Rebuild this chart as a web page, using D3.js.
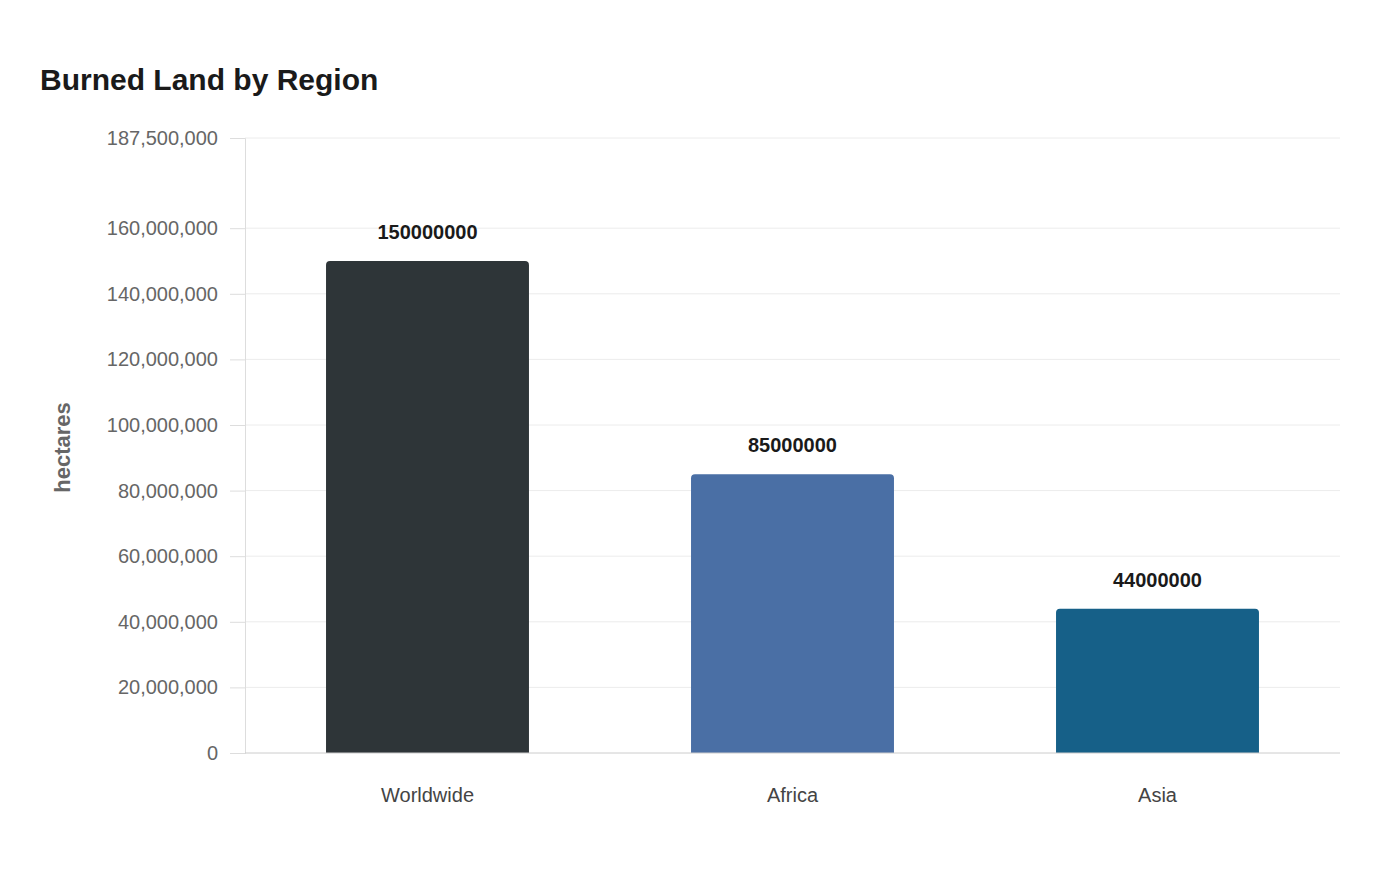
<!DOCTYPE html>
<html>
<head>
<meta charset="utf-8">
<script src="https://cdn.jsdelivr.net/npm/d3@7"></script>
<style>
  body { margin: 0; background: #fff; font-family: "Liberation Sans", Arial, sans-serif; }
</style>
</head>
<body>
<div id="chart"></div>
<script>
// data
const regions = ["Worldwide", "Africa", "Asia"];
const hectares = [150000000, 85000000, 44000000];
const barColors = ["#2e3538", "#4a6fa5", "#166088"];
const yTicks = [0, 20000000, 40000000, 60000000, 80000000, 100000000, 120000000, 140000000, 160000000, 187500000];

const width = 1400, height = 880;
const margin = { top: 138, right: 60, bottom: 127, left: 245 };

const svg = d3.select("#chart").append("svg")
  .attr("width", width).attr("height", height);

const x = d3.scaleBand().domain(regions)
  .range([margin.left, width - margin.right])
  .paddingInner(0.444).paddingOuter(0.222);
const y = d3.scaleLinear().domain([0, 187500000])
  .range([height - margin.bottom, margin.top]);

//title
svg.append("text").attr("x", 40).attr("y", 90)
  .attr("font-size", 30).attr("font-weight", "bold").attr("fill", "#1a1a1a")
  .text("Burned Land by Region");

//grid
svg.append("g").selectAll("line").data(yTicks.filter(d => d > 0)).join("line")
  .attr("x1", margin.left).attr("x2", width - margin.right)
  .attr("y1", d => y(d)).attr("y2", d => y(d))
  .attr("stroke", "#ececec");

//y axis
const yAxis = svg.append("g").attr("transform", `translate(${margin.left},0)`)
  .call(d3.axisLeft(y).tickValues(yTicks).tickFormat(d3.format(",")).tickSize(15).tickPadding(12));
yAxis.select(".domain").attr("stroke", "#ddd");
yAxis.selectAll(".tick line").attr("stroke", "#ddd").attr("x2", -15);
yAxis.selectAll("text").attr("font-size", 20).attr("fill", "#666")
  .attr("font-family", "Liberation Sans, Arial, sans-serif");

svg.append("text")
  .attr("transform", `translate(70,${(margin.top + height - margin.bottom) / 2 + 2}) rotate(-90)`)
  .attr("text-anchor", "middle").attr("font-size", 22).attr("font-weight", "bold").attr("fill", "#666")
  .text("hectares");

//bars
const r = 4;
svg.append("g").selectAll("path").data(regions).join("path")
  .attr("fill", (d, i) => barColors[i])
  .attr("d", (d, i) => {
    const x0 = x(d), w = x.bandwidth(), y0 = y(hectares[i]), y1 = y(0);
    return `M${x0},${y1}V${y0 + r}Q${x0},${y0} ${x0 + r},${y0}H${x0 + w - r}Q${x0 + w},${y0} ${x0 + w},${y0 + r}V${y1}Z`;
  });

//value labels
svg.append("g").selectAll("text").data(regions).join("text")
  .attr("x", d => x(d) + x.bandwidth() / 2)
  .attr("y", (d, i) => y(hectares[i]) - 22)
  .attr("text-anchor", "middle").attr("font-size", 20).attr("font-weight", "bold").attr("fill", "#1a1a1a")
  .text((d, i) => hectares[i]);

//x axis
svg.append("line")
  .attr("x1", margin.left).attr("x2", width - margin.right)
  .attr("y1", y(0)).attr("y2", y(0)).attr("stroke", "#ccc");
svg.append("g").selectAll("text").data(regions).join("text")
  .attr("x", d => x(d) + x.bandwidth() / 2).attr("y", y(0) + 49)
  .attr("text-anchor", "middle").attr("font-size", 20).attr("fill", "#444")
  .text(d => d);
</script>
</body>
</html>
